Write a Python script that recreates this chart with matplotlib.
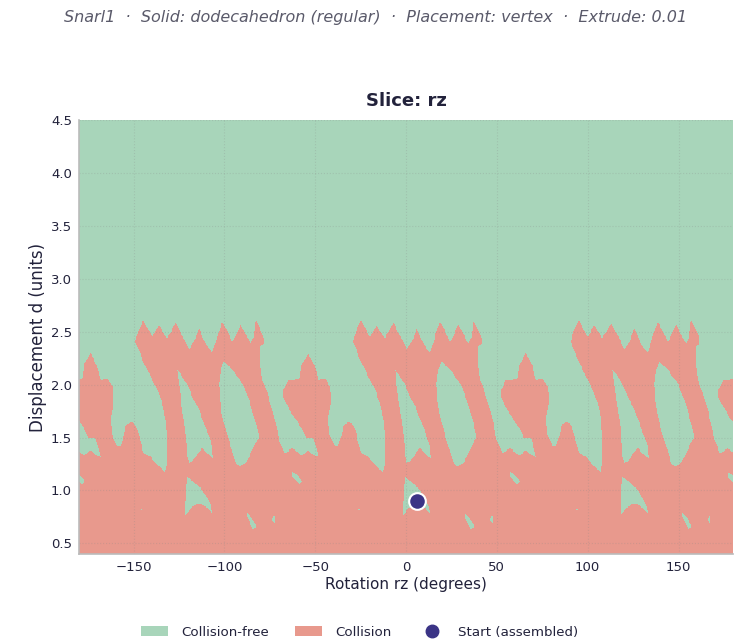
import numpy as np
import matplotlib
matplotlib.use("Agg")
import matplotlib.pyplot as plt
from matplotlib.path import Path
from matplotlib.colors import ListedColormap
from matplotlib.patches import Patch
from matplotlib.lines import Line2D

# one 120 deg period of the rz slice (3-fold symmetry)
period_shifts = [-240, -120, 0, 120, 240]

# upper boundary of the collision band, left to right (rz deg, d)
red_top_x = [-58.46, -57.54, -55.70, -53.86, -51.10, -48.35, -49.27, -51.10, -54.78, -56.62,
             -59.38, -63.05, -66.73, -67.65, -67.65, -66.73, -64.89, -60.30, -58.46, -57.54,
             -53.86, -50.19, -48.35, -44.67, -41.91, -40.99, -41.91, -42.83, -42.28, -39.16,
             -37.32, -35.11, -34.56, -31.80, -29.97, -27.21, -26.29, -24.45, -20.77, -18.02,
             -15.26, -12.87, -11.58, -11.58, -12.50, -14.34, -17.09, -20.77, -24.45, -28.13,
             -29.41, -27.21, -24.82, -22.61, -19.86, -18.02, -16.18, -14.34, -11.95, -9.74,
             -6.98, -4.23, -1.47, 0.37, 4.04, 5.88, 7.72, 10.48, 13.23, 15.99,
             18.75, 21.51, 24.26, 26.10, 28.86, 31.62, 34.38, 36.21, 37.13, 38.97,
             41.73, 41.73, 39.89, 39.89, 40.81, 43.57, 46.33, 48.53, 50.00, 51.84,
             53.27, 55.11, 56.95, 58.78, 60.62, 61.54]
red_top_y = [1.340, 1.334, 1.350, 1.381, 1.334, 1.318, 1.381, 1.492, 1.492, 1.555,
             1.634, 1.729, 1.840, 1.887, 1.950, 1.975, 2.045, 2.051, 2.061, 2.187,
             2.298, 2.171, 2.045, 2.061, 1.982, 1.855, 1.761, 1.697, 1.539, 1.413,
             1.419, 1.539, 1.603, 1.650, 1.634, 1.539, 1.445, 1.350, 1.318, 1.255,
             1.208, 1.176, 1.255, 1.476, 1.666, 1.824, 1.950, 2.077, 2.203, 2.361,
             2.408, 2.519, 2.614, 2.535, 2.449, 2.503, 2.566, 2.503, 2.440, 2.487,
             2.588, 2.487, 2.408, 2.329, 2.440, 2.535, 2.456, 2.361, 2.298, 2.456,
             2.598, 2.503, 2.408, 2.456, 2.566, 2.472, 2.392, 2.456, 2.614, 2.551,
             2.440, 2.392, 2.361, 2.171, 2.045, 1.919, 1.761, 1.603, 1.476, 1.397,
             1.350, 1.365, 1.397, 1.381, 1.350, 1.340]

# collision-free pockets inside the band
hole_a_x = [-6.07, -3.31, -0.55, 2.20, 5.88, 8.64, 11.40, 13.23, 13.60, 10.48, 7.72,
            5.88, 4.04, 2.20, 0.37, -0.55, -1.10, -2.39, -3.31, -4.78, -5.52]
hole_a_y = [2.140, 2.077, 1.998, 1.887, 1.761, 1.634, 1.508, 1.413, 1.302, 1.350, 1.397,
            1.365, 1.318, 1.271, 1.255, 1.318, 1.476, 1.666, 1.761, 1.950, 2.061]
hole_b_x = [19.67, 24.26, 29.78, 33.46, 36.21, 38.60, 38.60, 37.13, 35.29, 33.46,
            31.62, 29.78, 27.94, 26.10, 24.26, 21.51, 18.75, 17.28, 16.91, 17.83]
hole_b_y = [2.219, 2.140, 2.013, 1.855, 1.697, 1.539, 1.492, 1.445, 1.381, 1.318,
            1.255, 1.233, 1.223, 1.255, 1.365, 1.524, 1.697, 1.855, 2.013, 2.140]
hole_c_x = [-0.55, 3.12, 6.80, 9.56, 11.40, 12.87, 13.23, 11.03, 7.72, 4.04, 1.29,
            -1.84, -1.47, -1.10]
hole_c_y = [1.128, 1.072, 1.018, 0.955, 0.892, 0.829, 0.781, 0.829, 0.860, 0.860, 0.829,
            0.756, 0.907, 1.034]
hole_d_x = [57.35, 60.11, 62.87, 61.03, 58.82, 57.35]
hole_d_y = [1.176, 1.144, 1.081, 1.050, 1.097, 1.128]
hole_e_x = [31.99, 34.38, 37.50, 35.66, 33.46, 32.17]
hole_e_y = [0.797, 0.749, 0.655, 0.629, 0.702, 0.756]
hole_f_x = [46.33, 47.43, 47.80, 46.51]
hole_f_y = [0.733, 0.765, 0.686, 0.702]
hole_g_x = [-26.4, -25.4, -25.4, -26.4]
hole_g_y = [0.825, 0.825, 0.810, 0.810]

start_rz = 6.25
start_d = 0.898

GREEN = "#a8d5ba"
RED = "#e8998d"
DARK = "#22223b"

x_lim = (-180, 180)
y_lim = (0.4, 4.5)
band_floor = 0.3


def tile_path(xs, ys, closed_floor=False):
    pts = list(zip(xs, ys))
    if closed_floor:
        pts = pts + [(xs[-1], band_floor), (xs[0], band_floor)]
    return Path(pts + [pts[0]], closed=True)


red_path = tile_path(red_top_x, red_top_y, closed_floor=True)
hole_paths = [tile_path(hx, hy) for hx, hy in [(hole_a_x, hole_a_y), (hole_b_x, hole_b_y),
                                                (hole_c_x, hole_c_y), (hole_d_x, hole_d_y),
                                                (hole_e_x, hole_e_y), (hole_f_x, hole_f_y),
                                                (hole_g_x, hole_g_y)]]

# rasterise the slice on a grid, like the original sampled map
gx = np.linspace(x_lim[0], x_lim[1], 721)
gy = np.linspace(y_lim[0], y_lim[1], 411)
XX, YY = np.meshgrid(gx, gy)
pts = np.column_stack([XX.ravel(), YY.ravel()])

collide = np.zeros(len(pts), dtype=bool)
free = np.zeros(len(pts), dtype=bool)
for s in period_shifts:
    shifted = pts - np.array([s, 0.0])
    collide |= red_path.contains_points(shifted)
    for hp in hole_paths:
        free |= hp.contains_points(shifted)
grid = (collide & ~free).reshape(XX.shape).astype(float)

fig = plt.figure(figsize=(7.51, 6.40), dpi=100)
ax = fig.add_axes([79 / 751, 1 - 554 / 640, 654 / 751, 434 / 640])

ax.imshow(grid, origin="lower", extent=[x_lim[0], x_lim[1], y_lim[0], y_lim[1]],
          cmap=ListedColormap([GREEN, RED]), vmin=0, vmax=1, aspect="auto",
          interpolation="nearest")
ax.plot([start_rz], [start_d], "o", color="#3b3486", markersize=12,
        markeredgecolor="white", markeredgewidth=1.5, zorder=5)

ax.set_xlim(*x_lim)
ax.set_ylim(*y_lim)
ax.set_xticks([-150, -100, -50, 0, 50, 100, 150])
ax.set_yticks([0.5, 1.0, 1.5, 2.0, 2.5, 3.0, 3.5, 4.0, 4.5])
ax.grid(True, color="#888888", alpha=0.25, linestyle=":", linewidth=0.8)
ax.tick_params(length=0, labelsize=9.5, colors=DARK, pad=5)
for side in ["top", "right"]:
    ax.spines[side].set_visible(False)
for side in ["left", "bottom"]:
    ax.spines[side].set_color("#bbbbbb")
    ax.spines[side].set_linewidth(1.2)

ax.set_xlabel("Rotation rz (degrees)", fontsize=11, color=DARK, labelpad=2)
ax.set_ylabel("Displacement d (units)", fontsize=12, color=DARK, labelpad=3)
ax.set_title("Slice: rz", fontsize=13, fontweight="bold", color=DARK, pad=10)

fig.suptitle("Snarl1  \u00b7  Solid: dodecahedron (regular)  \u00b7  Placement: vertex  \u00b7  Extrude: 0.01",
             x=0.5, y=0.985, fontsize=11.5, style="italic", color="#5a5a6a")

handles = [Patch(facecolor=GREEN, label="Collision-free"),
           Patch(facecolor=RED, label="Collision"),
           Line2D([], [], marker="o", linestyle="none", color="#3b3486", markersize=9,
                  label="Start (assembled)")]
fig.legend(handles=handles, loc="lower center", bbox_to_anchor=(0.479, -0.017), ncol=3,
           frameon=False, fontsize=9.6, columnspacing=2.0, handlelength=2.0,
           handleheight=0.8, handletextpad=1.0, labelcolor=DARK)

fig.savefig("out.png", dpi=100)
